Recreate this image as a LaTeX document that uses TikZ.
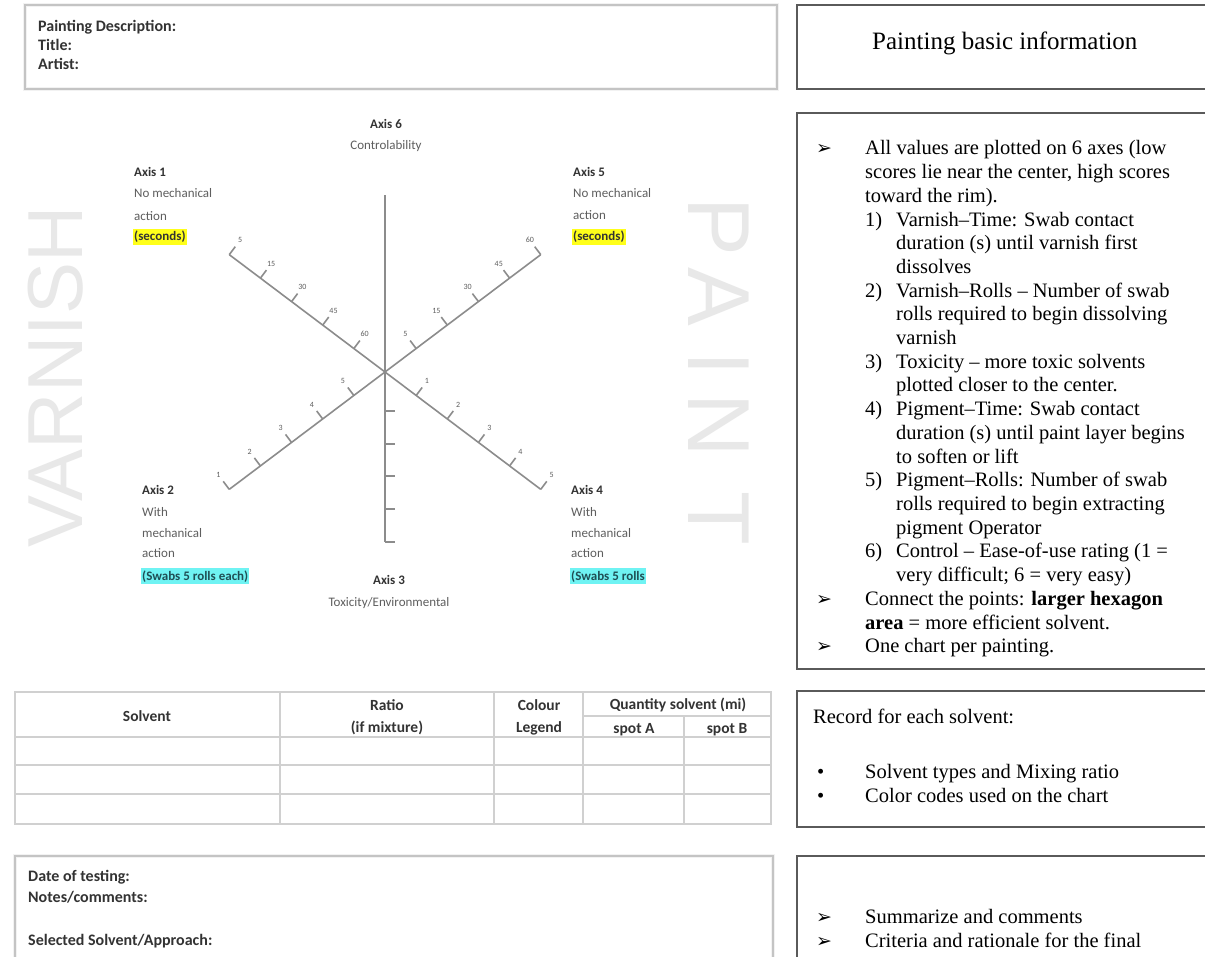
\documentclass[tikz,border=0pt]{standalone}
\usepackage{fontspec}
\setmainfont{Liberation Serif}
\setsansfont{Carlito}
\newfontfamily\markfont{Liberation Sans}
\newfontfamily\dingfont{DejaVu Sans}
\definecolor{boxgray}{HTML}{5A5A5A}
\definecolor{softgray}{HTML}{C4C4C4}
\definecolor{axisgray}{HTML}{8C8C8C}
\definecolor{lblgray}{HTML}{5E5E5E}
\definecolor{inkgray}{HTML}{333333}
\definecolor{wmgray}{HTML}{E8E8E8}
\definecolor{hlyellow}{HTML}{FFFF1A}
\definecolor{hlcyan}{HTML}{6FF3F3}
\definecolor{tealink}{HTML}{1F4F55}
\begin{document}
\begin{tikzpicture}[x=1pt,y=-1pt,
  frame/.style={draw=boxgray, line width=1.5pt},
  softframe/.style={draw=softgray, line width=1.5pt},
  glow/.style={draw=softgray!22, line width=4pt},
  grid/.style={draw=softgray!80, line width=1.2pt},
  axisln/.style={draw=axisgray, line width=1.6pt},
  wm/.style={inner sep=0pt, text=wmgray},
  tlbl/.style={inner sep=0pt, font=\sffamily\fontsize{8}{9}\selectfont, text=lblgray},
  lbl/.style={anchor=base west, inner sep=0pt, font=\sffamily\fontsize{13}{15}\selectfont, text=lblgray},
  lblb/.style={lbl, font=\sffamily\bfseries\fontsize{13}{15}\selectfont, text=inkgray},
  hly/.style={lblb, fill=hlyellow, inner xsep=1pt, inner ysep=2pt},
  hlc/.style={lblb, fill=hlcyan, text=tealink, inner xsep=1pt, inner ysep=2pt},
  ftxt/.style={anchor=base west, inner sep=0pt, font=\sffamily\bfseries\fontsize{16}{18}\selectfont, text=inkgray},
  thd/.style={anchor=base, inner sep=0pt, font=\sffamily\bfseries\fontsize{15.5}{18}\selectfont, text=inkgray},
  rtxt/.style={anchor=base west, inner sep=0pt, font=\fontsize{20.5}{24}\selectfont},
  arw/.style={anchor=base west, inner sep=0pt, font=\dingfont\fontsize{19}{22}\selectfont}]
\path[fill=white, use as bounding box] (0,0) rectangle (1205,957);

% watermarks
\node[wm, rotate=90, font=\markfont\fontsize{78}{80}\selectfont] (varnish) at (56,377) {VARNISH};
\node[wm, rotate=-90, font=\markfont\fontsize{88}{90}\selectfont] (pp) at (719,227) {P};\node[wm, rotate=-90, font=\markfont\fontsize{88}{90}\selectfont] (pa) at (719,297) {A};\node[wm, rotate=-90, font=\markfont\fontsize{88}{90}\selectfont] (pi) at (719,364) {I};\node[wm, rotate=-90, font=\markfont\fontsize{88}{90}\selectfont] (pn) at (719,425) {N};\node[wm, rotate=-90, font=\markfont\fontsize{88}{90}\selectfont] (pt) at (719,518) {T};

% left boxes
\draw[glow] (25,5) rectangle (777,89);
\draw[softframe] (25,5) rectangle (777,89);
\node[ftxt] (desc) at (38,32) {Painting Description:};
\node[ftxt] (title) at (38,51) {Title:};
\node[ftxt] (artist) at (38,70) {Artist:};

\draw[glow] (15,957) -- (15,856) -- (773,856) -- (773,957);
\draw[softframe] (15,957) -- (15,856) -- (773,856) -- (773,957);
\node[ftxt] (date) at (28,881) {Date of testing:};
\node[ftxt] (notes) at (28,902) {Notes/comments:};
\node[ftxt] (chosen) at (28,945) {Selected Solvent/Approach:};

% solvent table
\draw[grid] (15,692) rectangle (771,824);
\draw[grid] (15,737) -- (771,737);\draw[grid] (15,765) -- (771,765);\draw[grid] (15,794) -- (771,794);\draw[grid] (583,716) -- (771,716);
\draw[grid] (280,692) -- (280,824);\draw[grid] (494,692) -- (494,824);\draw[grid] (583,692) -- (583,824);\draw[grid] (684,716) -- (684,824);
\node[thd] (hsolv) at (147,721) {Solvent};
\node[thd] (hratio) at (387,710) {Ratio};\node[thd] (hmix) at (387,732) {(if mixture)};
\node[thd] (hcol) at (539,710) {Colour};\node[thd] (hleg) at (539,732) {Legend};
\node[thd] (hqty) at (678,709) {Quantity solvent (mi)};
\node[thd] (hspa) at (634,733) {spot A};\node[thd] (hspb) at (727,733) {spot B};

% radar axes
\begin{scope}[shift={(385,372)}, yscale=-1]
\draw[axisln] (0,0) -- (90:177);
\draw[axisln] (0,0) -- (270:170);
\draw[axisln] (0,0) -- (143:195);\draw[axisln] (0,0) -- (37:195);\draw[axisln] (0,0) -- (217:195);\draw[axisln] (0,0) -- (323:195);
\draw[axisln] (143:39) -- ++(53:10) ++(53:8) node[tlbl] (ul1) {60};\draw[axisln] (143:78) -- ++(53:10) ++(53:8) node[tlbl] (ul2) {45};\draw[axisln] (143:117) -- ++(53:10) ++(53:8) node[tlbl] (ul3) {30};\draw[axisln] (143:156) -- ++(53:10) ++(53:8) node[tlbl] (ul4) {15};\draw[axisln] (143:195) -- ++(53:10) ++(53:8) node[tlbl] (ul5) {5};
\draw[axisln] (37:39) -- ++(127:10) ++(127:8) node[tlbl] (ur1) {5};\draw[axisln] (37:78) -- ++(127:10) ++(127:8) node[tlbl] (ur2) {15};\draw[axisln] (37:117) -- ++(127:10) ++(127:8) node[tlbl] (ur3) {30};\draw[axisln] (37:156) -- ++(127:10) ++(127:8) node[tlbl] (ur4) {45};\draw[axisln] (37:195) -- ++(127:10) ++(127:8) node[tlbl] (ur5) {60};
\draw[axisln] (217:39) -- ++(127:10) ++(127:8) node[tlbl] (ll1) {5};\draw[axisln] (217:78) -- ++(127:10) ++(127:8) node[tlbl] (ll2) {4};\draw[axisln] (217:117) -- ++(127:10) ++(127:8) node[tlbl] (ll3) {3};\draw[axisln] (217:156) -- ++(127:10) ++(127:8) node[tlbl] (ll4) {2};\draw[axisln] (217:195) -- ++(127:10) ++(127:8) node[tlbl] (ll5) {1};
\draw[axisln] (323:39) -- ++(53:10) ++(53:8) node[tlbl] (lr1) {1};\draw[axisln] (323:78) -- ++(53:10) ++(53:8) node[tlbl] (lr2) {2};\draw[axisln] (323:117) -- ++(53:10) ++(53:8) node[tlbl] (lr3) {3};\draw[axisln] (323:156) -- ++(53:10) ++(53:8) node[tlbl] (lr4) {4};\draw[axisln] (323:195) -- ++(53:10) ++(53:8) node[tlbl] (lr5) {5};
\draw[axisln] (270:39) -- ++(0:10);\draw[axisln] (270:72) -- ++(0:10);\draw[axisln] (270:104) -- ++(0:10);\draw[axisln] (270:137) -- ++(0:10);\draw[axisln] (270:170) -- ++(0:10);
\end{scope}

% axis captions
\node[lblb, anchor=base] (ax6) at (386,129) {Axis 6};\node[lbl, anchor=base] (ax6t) at (386,150) {Controlability};
\node[lblb] (ax1) at (134,177) {Axis 1};\node[lbl] (ax1a) at (134,198) {No mechanical};\node[lbl] (ax1b) at (134,221) {action};\node[hly] (ax1c) at (133,241) {(seconds)};
\node[lblb] (ax5) at (573,177) {Axis 5};\node[lbl] (ax5a) at (573,198) {No mechanical};\node[lbl] (ax5b) at (573,220) {action};\node[hly] (ax5c) at (572,241) {(seconds)};
\node[lblb] (ax2) at (142,494) {Axis 2};\node[lbl] (ax2a) at (142,516) {With};\node[lbl] (ax2b) at (142,537) {mechanical};\node[lbl] (ax2c) at (142,557) {action};\node[hlc] (ax2d) at (141,580) {(Swabs 5 rolls each)};
\node[lblb] (ax4) at (571,494) {Axis 4};\node[lbl] (ax4a) at (571,516) {With};\node[lbl] (ax4b) at (571,537) {mechanical};\node[lbl] (ax4c) at (571,557) {action};\node[hlc] (ax4d) at (570,580) {(Swabs 5 rolls};
\node[lblb, anchor=base] (ax3) at (389,584) {Axis 3};\node[lbl, anchor=base] (ax3t) at (389,606) {Toxicity/Environmental};

% right hand boxes
\draw[frame] (1205,5) -- (797,5) -- (797,89) -- (1205,89);
\node[rtxt, font=\fontsize{25}{28}\selectfont] (basic) at (872,50) {Painting basic information};

\draw[frame] (1205,113) -- (797,113) -- (797,669) -- (1205,669);
\node[arw] (a1) at (816,155) {➢};\node[rtxt] (l1) at (865,155) {All values are plotted on 6 axes (low};
\node[rtxt] (l2) at (865,178.7) {scores lie near the center, high scores};
\node[rtxt] (l3) at (865,202.4) {toward the rim).};
\node[rtxt] (n1) at (865,226.1) {1)};\node[rtxt] (l4) at (896,226.1) {Varnish–Time: Swab contact};
\node[rtxt] (l5) at (896,249.8) {duration (s) until varnish first};
\node[rtxt] (l6) at (896,273.5) {dissolves};
\node[rtxt] (n2) at (865,297.2) {2)};\node[rtxt] (l7) at (896,297.2) {Varnish–Rolls – Number of swab};
\node[rtxt] (l8) at (896,320.9) {rolls required to begin dissolving};
\node[rtxt] (l9) at (896,344.6) {varnish};
\node[rtxt] (n3) at (865,368.3) {3)};\node[rtxt] (l10) at (896,368.3) {Toxicity – more toxic solvents};
\node[rtxt] (l11) at (896,392) {plotted closer to the center.};
\node[rtxt] (n4) at (865,415.7) {4)};\node[rtxt] (l12) at (896,415.7) {Pigment–Time: Swab contact};
\node[rtxt] (l13) at (896,439.4) {duration (s) until paint layer begins};
\node[rtxt] (l14) at (896,463.1) {to soften or lift};
\node[rtxt] (n5) at (865,486.8) {5)};\node[rtxt] (l15) at (896,486.8) {Pigment–Rolls: Number of swab};
\node[rtxt] (l16) at (896,510.5) {rolls required to begin extracting};
\node[rtxt] (l17) at (896,534.2) {pigment Operator};
\node[rtxt] (n6) at (865,557.9) {6)};\node[rtxt] (l18) at (896,557.9) {Control – Ease-of-use rating (1 =};
\node[rtxt] (l19) at (896,581.6) {very difficult; 6 = very easy)};
\node[arw] (a2) at (816,605.3) {➢};\node[rtxt] (l20) at (865,605.3) {Connect the points: \textbf{larger hexagon}};
\node[rtxt] (l21) at (865,629) {\textbf{area} = more efficient solvent.};
\node[arw] (a3) at (816,652.7) {➢};\node[rtxt] (l22) at (865,652.7) {One chart per painting.};

\draw[frame] (1205,691) -- (797,691) -- (797,827) -- (1205,827);
\node[rtxt] (rec) at (813,723) {Record for each solvent:};
\node[rtxt] (d1) at (817,778) {•};\node[rtxt] (r1) at (865,778) {Solvent types and Mixing ratio};
\node[rtxt] (d2) at (817,802) {•};\node[rtxt] (r2) at (865,802) {Color codes used on the chart};

\draw[frame] (1205,856) -- (797,856) -- (797,957);
\node[arw] (a4) at (816,923) {➢};\node[rtxt] (s1) at (865,923) {Summarize and comments};
\node[arw] (a5) at (816,947) {➢};\node[rtxt] (s2) at (865,947) {Criteria and rationale for the final};
\end{tikzpicture}
\end{document}
